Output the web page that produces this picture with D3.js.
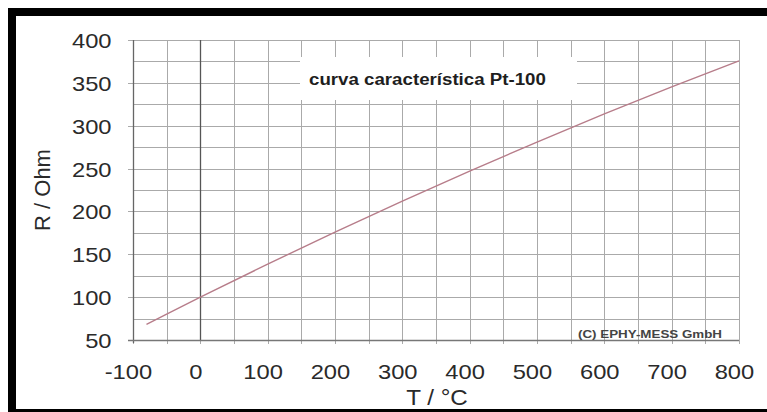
<!DOCTYPE html>
<html>
<head>
<meta charset="utf-8">
<script src="https://cdn.jsdelivr.net/npm/d3@7"></script>
<style>
  body { margin: 0; background: #fff; }
  svg { display: block; font-family: "Liberation Sans", Arial, sans-serif; }
</style>
</head>
<body>
<div id="chart"></div>
<script>
// Pt-100 curve
var temps = [-80, -50, 0, 100, 200, 300, 400, 500, 600, 700, 800];
var resist = [68.3, 80.3, 100, 138.5, 175.9, 212.1, 247.1, 280.9, 313.7, 345.3, 375.7];

var xTicks = [-100, 0, 100, 200, 300, 400, 500, 600, 700, 800];
var yTicks = [50, 100, 150, 200, 250, 300, 350, 400];

var titleText = "curva característica Pt-100";
var copyText = "(C) EPHY-MESS GmbH";

var svgWidth = 767;
var svgHeight = 412;

var svg = d3.select("#chart")
  .append("svg")
  .attr("width", svgWidth)
  .attr("height", svgHeight);

// black frame (cropped on the right)
svg.append("rect").attr("x", 8).attr("y", 8).attr("width", 780).attr("height", 8).attr("fill", "#000");
svg.append("rect").attr("x", 8).attr("y", 8).attr("width", 8).attr("height", 420).attr("fill", "#000");
svg.append("rect").attr("x", 8).attr("y", 409).attr("width", 780).attr("height", 10).attr("fill", "#000");

var x = d3.scaleLinear().domain([-100, 800]).range([133, 739]);
var y = d3.scaleLinear().domain([50, 400]).range([340, 40]);

// grid
var grid = svg.append("g").attr("stroke", "#aaa").attr("stroke-width", 1);
grid.selectAll("line.v")
  .data(d3.range(-100, 801, 50))
  .enter().append("line")
  .attr("class", "v")
  .attr("x1", d => Math.round(x(d)) + 0.5)
  .attr("x2", d => Math.round(x(d)) + 0.5)
  .attr("y1", y(400))
  .attr("y2", y(50) + 4);
grid.selectAll("line.h")
  .data(d3.range(50, 401, 25))
  .enter().append("line")
  .attr("class", "h")
  .attr("y1", d => Math.round(y(d)) + 0.5)
  .attr("y2", d => Math.round(y(d)) + 0.5)
  .attr("x1", d => d % 50 == 0 ? x(-100) - 5 : x(-100))
  .attr("x2", x(800));

// white box behind the title
svg.append("rect")
  .attr("x", 300).attr("y", 57)
  .attr("width", 277).attr("height", 43)
  .attr("fill", "#fff");

// darker axis lines
svg.append("line")
  .attr("x1", Math.round(x(-100)) + 0.5).attr("x2", Math.round(x(-100)) + 0.5)
  .attr("y1", y(400)).attr("y2", y(50) + 3)
  .attr("stroke", "#666").attr("stroke-width", 1.3);
svg.append("line")
  .attr("x1", Math.round(x(0)) + 0.5).attr("x2", Math.round(x(0)) + 0.5)
  .attr("y1", y(400)).attr("y2", y(50))
  .attr("stroke", "#555").attr("stroke-width", 1.3);
svg.append("line")
  .attr("x1", x(-100) - 5).attr("x2", x(800))
  .attr("y1", Math.round(y(50)) + 0.5).attr("y2", Math.round(y(50)) + 0.5)
  .attr("stroke", "#777").attr("stroke-width", 1.3);

// curve
var line = d3.line()
  .x((d, i) => x(temps[i]))
  .y(d => y(d))
  .curve(d3.curveMonotoneX);
svg.append("path")
  .datum(resist)
  .attr("d", line)
  .attr("fill", "none")
  .attr("stroke", "#b77d8a")
  .attr("stroke-width", 1.4);

// axes (labels only)
var bottomAxis = d3.axisBottom(x).tickValues(xTicks).tickSize(0).tickPadding(0)
  .tickFormat(d => String(d));
var leftAxis = d3.axisLeft(y).tickValues(yTicks).tickSize(0).tickPadding(0)
  .tickFormat(d => String(d));

var gx = svg.append("g")
  .attr("transform", `translate(0, ${y(50)})`)
  .call(bottomAxis);
var gy = svg.append("g")
  .attr("transform", `translate(${x(-100)}, 0)`)
  .call(leftAxis);

[gx, gy].forEach(function(g) {
  g.select(".domain").remove();
  g.selectAll("text")
    .attr("font-family", "'Liberation Sans', Arial, sans-serif")
    .attr("font-size", 21)
    .attr("fill", "#2a2a2a");
});
gx.selectAll("text")
  .attr("dy", 0)
  .attr("y", 39)
  .attr("x", -4.5)
  .attr("transform", "scale(1.13,1)");
gy.selectAll("text")
  .attr("dy", "0.36em")
  .attr("x", -19)
  .attr("transform", "scale(1.13,1)");

// axis titles
svg.append("text")
  .attr("transform", "translate(50, 190) rotate(-90)")
  .attr("text-anchor", "middle")
  .attr("font-size", 22)
  .attr("fill", "#2a2a2a")
  .text("R / Ohm");

svg.append("text")
  .attr("transform", "translate(437, 405) scale(1.1,1)")
  .attr("text-anchor", "middle")
  .attr("font-size", 22)
  .attr("fill", "#2a2a2a")
  .text("T / °C");

// title
svg.append("text")
  .attr("transform", "translate(309, 85) scale(1.1,1)")
  .attr("font-size", 17)
  .attr("font-weight", "bold")
  .attr("fill", "#1e1e1e")
  .text(titleText);

// copyright
svg.append("text")
  .attr("x", 578).attr("y", 338)
  .attr("font-size", 10)
  .attr("font-weight", "bold")
  .attr("fill", "#444")
  .attr("textLength", 144)
  .attr("lengthAdjust", "spacingAndGlyphs")
  .text(copyText);
</script>
</body>
</html>
